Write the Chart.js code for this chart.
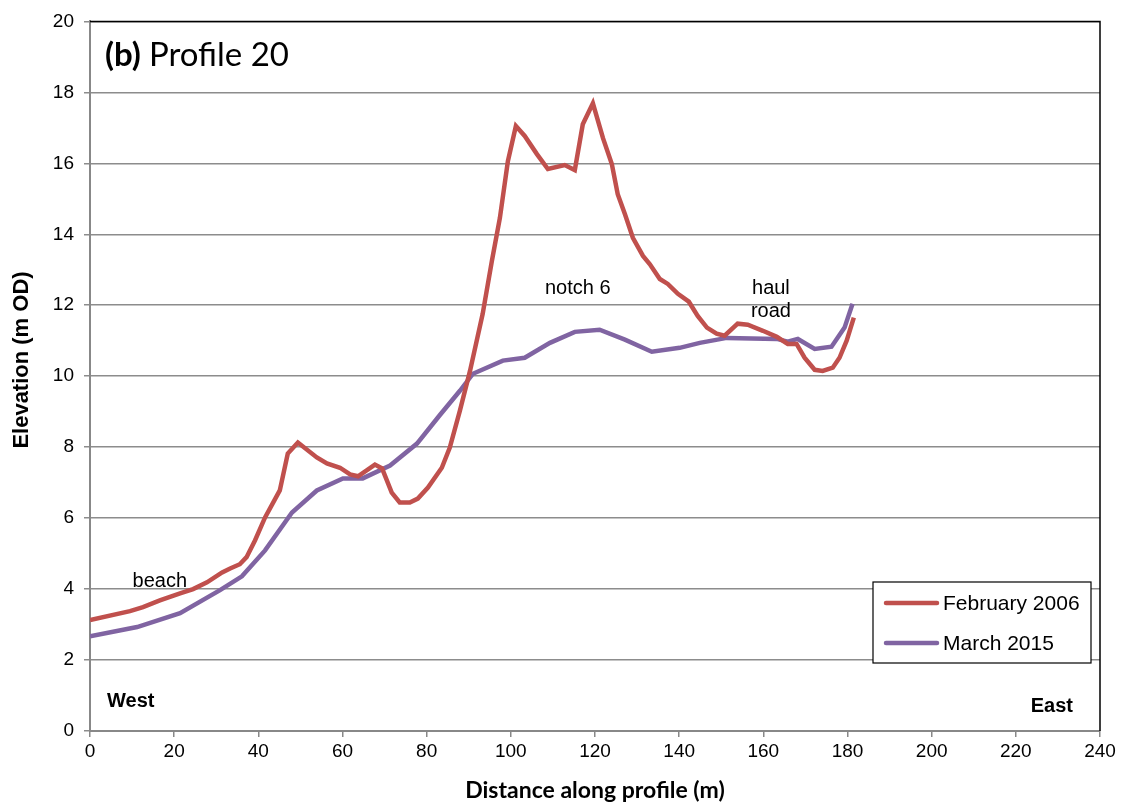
<!DOCTYPE html>
<html>
<head>
<meta charset="utf-8">
<script src="https://cdn.jsdelivr.net/npm/chart.js@4.4.1/dist/chart.umd.min.js"></script>
<style>
  html, body { margin: 0; padding: 0; background: #fff; }
  #wrap { width: 1123px; height: 808px; }
</style>
</head>
<body>
<div id="wrap"><canvas id="profile"></canvas></div>
<script>
// Profile 20 survey data: distance (m) and elevation (m OD)
const feb2006Dist = [0, 9.5, 12.6, 16.6, 21.4, 24.5, 27.8, 31.4, 33.3, 35.6, 37.2, 39.2, 41.6, 45.1, 47.0, 49.4,
  53.9, 56.3, 59.4, 61.8, 63.7, 67.7, 69.4, 71.7, 73.6, 76.0, 77.9, 80.3, 83.6, 85.5, 87.9, 90.3,
  93.3, 95.5, 97.4, 99.3, 101.2, 103.3, 106.2, 108.8, 112.8, 115.2, 117.1, 119.5, 121.9, 124.0,
  125.4, 127.1, 129.0, 131.4, 133.0, 135.4, 137.3, 139.7, 142.3, 144.4, 146.6, 148.9, 150.8,
  153.9, 156.3, 159.9, 163.2, 165.8, 167.9, 169.8, 172.2, 174.1, 176.5, 178.1, 179.8, 181.5];
const feb2006Elev = [3.13, 3.38, 3.49, 3.68, 3.88, 4.0, 4.19, 4.47, 4.58, 4.70, 4.90, 5.37, 6.02, 6.78, 7.82, 8.13,
  7.71, 7.54, 7.42, 7.23, 7.18, 7.51, 7.40, 6.72, 6.44, 6.44, 6.55, 6.86, 7.42, 7.99, 9.03, 10.15,
  11.75, 13.25, 14.46, 16.06, 17.05, 16.77, 16.26, 15.84, 15.95, 15.81, 17.1, 17.69, 16.71, 15.98,
  15.13, 14.57, 13.9, 13.39, 13.16, 12.74, 12.6, 12.32, 12.1, 11.7, 11.37, 11.2, 11.14,
  11.48, 11.45, 11.28, 11.11, 10.91, 10.91, 10.52, 10.18, 10.15, 10.24, 10.52, 11.0, 11.65];

const mar2015Dist = [0, 11.2, 21.4, 30.9, 36.1, 41.6, 48.0, 53.9, 60.1, 64.8, 71.3, 77.7, 83.1, 87.9, 91.0,
  98.1, 103.3, 109.3, 115.2, 121.1, 127.1, 133.5, 140.1, 144.9, 151.3, 163.2, 165.8, 168.2,
  172.2, 176.2, 179.3, 181.2];
const mar2015Elev = [2.67, 2.93, 3.32, 3.97, 4.36, 5.09, 6.16, 6.78, 7.12, 7.12, 7.48, 8.10, 8.9, 9.59, 10.07,
  10.44, 10.52, 10.94, 11.25, 11.31, 11.03, 10.69, 10.80, 10.94, 11.08, 11.05, 10.97, 11.05,
  10.77, 10.83, 11.37, 12.04];

const seriesNames = ['February 2006', 'March 2015'];
const xTicks = [0, 240, 20];   // min, max, step
const yTicks = [0, 20, 2];

// text labels placed in data coordinates
const notes = [
  { text: 'beach', x: 16.6, y: 4.2 },
  { text: 'notch 6', x: 115.9, y: 12.46 },
  { text: 'haul', x: 161.8, y: 12.46 },
  { text: 'road', x: 161.8, y: 11.81 }
];

const RED = '#c0504d';
const PURPLE = '#8064a2';

const toPoints = (xs, ys) => xs.map((x, i) => ({ x: x, y: ys[i] }));

const decorations = {
  id: 'decorations',
  afterDraw(chart) {
    const ctx = chart.ctx;
    const area = chart.chartArea;
    const sx = chart.scales.x, sy = chart.scales.y;
    ctx.save();

    // black frame on top and right
    ctx.strokeStyle = '#000';
    ctx.lineWidth = 1.5;
    ctx.beginPath();
    ctx.moveTo(area.left, area.top);
    ctx.lineTo(area.right, area.top);
    ctx.lineTo(area.right, area.bottom);
    ctx.stroke();

    // panel title
    ctx.fillStyle = '#000';
    ctx.textBaseline = 'middle';
    ctx.textAlign = 'left';
    ctx.font = 'bold 33px Lato';
    ctx.fillText('(b)', 105, 55);
    const w = ctx.measureText('(b) ').width;
    ctx.font = '33px Lato';
    ctx.fillText('Profile 20', 105 + w, 55);

    // y axis title
    ctx.save();
    ctx.translate(22, 360);
    ctx.rotate(-Math.PI / 2);
    ctx.textAlign = 'center';
    ctx.font = 'bold 22px "Liberation Sans"';
    ctx.fillText('Elevation (m OD)', 0, 0);
    ctx.restore();

    // notes
    ctx.font = '20px "Liberation Sans"';
    ctx.textAlign = 'center';
    notes.forEach(n => ctx.fillText(n.text, sx.getPixelForValue(n.x), sy.getPixelForValue(n.y)));

    ctx.font = 'bold 20px "Liberation Sans"';
    ctx.textAlign = 'left';
    ctx.fillText('West', 107, 701);
    ctx.textAlign = 'right';
    ctx.fillText('East', 1073, 706);

    // legend
    const lx = 873, ly = 582, lw = 218, lh = 81;
    ctx.fillStyle = '#fff';
    ctx.fillRect(lx, ly, lw, lh);
    ctx.strokeStyle = '#000';
    ctx.lineWidth = 1.2;
    ctx.strokeRect(lx, ly, lw, lh);
    ctx.lineCap = 'round';
    ctx.lineWidth = 4.5;
    [RED, PURPLE].forEach((c, i) => {
      const yy = ly + 21 + i * 40;
      ctx.strokeStyle = c;
      ctx.beginPath();
      ctx.moveTo(886, yy);
      ctx.lineTo(937, yy);
      ctx.stroke();
      ctx.fillStyle = '#000';
      ctx.textAlign = 'left';
      ctx.font = '21px "Liberation Sans"';
      ctx.fillText(seriesNames[i], 943, yy + 1);
    });
    ctx.restore();
  }
};

new Chart(document.getElementById('profile'), {
  type: 'line',
  data: {
    datasets: [
      { label: seriesNames[0], data: toPoints(feb2006Dist, feb2006Elev), borderColor: RED, borderWidth: 4.5, pointRadius: 0, tension: 0 },
      { label: seriesNames[1], data: toPoints(mar2015Dist, mar2015Elev), borderColor: PURPLE, borderWidth: 4.5, pointRadius: 0, tension: 0 }
    ]
  },
  options: {
    responsive: true,
    maintainAspectRatio: false,
    animation: false,
    layout: { padding: { top: 20, right: 23, left: 0, bottom: 0 } },
    plugins: { legend: { display: false }, tooltip: { enabled: false } },
    scales: {
      x: {
        type: 'linear',
        min: xTicks[0], max: xTicks[1],
        ticks: { stepSize: xTicks[2], color: '#000', font: { family: 'Liberation Sans', size: 19 }, padding: 3, maxRotation: 0 },
        grid: { drawOnChartArea: false, drawTicks: true, tickLength: 6, color: '#888', lineWidth: 1.5 },
        border: { color: '#888', width: 2 },
        title: { display: true, text: 'Distance along profile (m)', color: '#000', font: { family: 'Lato', size: 23, weight: 'bold' }, padding: { top: 6 } },
        afterFit: s => { s.height = 77; }
      },
      y: {
        min: yTicks[0], max: yTicks[1],
        ticks: { stepSize: yTicks[2], color: '#000', font: { family: 'Liberation Sans', size: 19 }, padding: 10 },
        grid: { color: '#8c8c8c', lineWidth: 1.5, tickLength: 6 },
        border: { color: '#888', width: 2 },
        afterFit: s => { s.width = 90; }
      }
    }
  },
  plugins: [decorations]
});
</script>
</body>
</html>
